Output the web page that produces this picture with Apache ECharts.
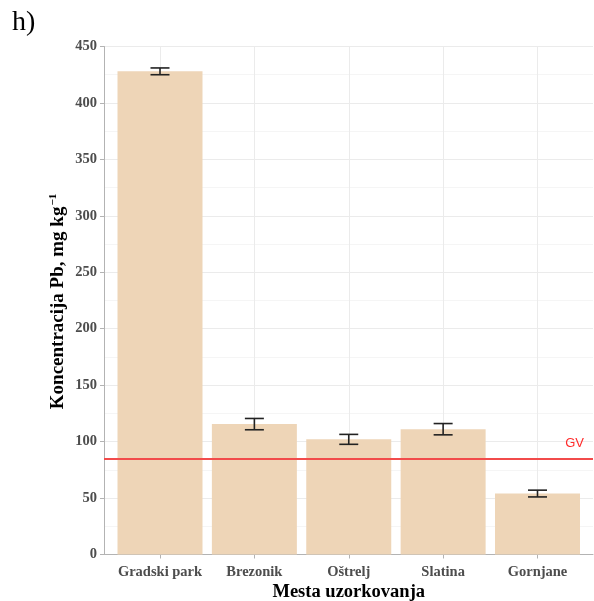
<!DOCTYPE html>
<html>
<head>
<meta charset="utf-8">
<script src="https://cdn.jsdelivr.net/npm/echarts@6/dist/echarts.min.js"></script>
<style>
html,body{margin:0;padding:0;background:#fff;}
#chart{width:594px;height:601px;}
</style>
</head>
<body>
<div id="chart"></div>
<script>
const categories = ['Gradski park', 'Brezonik', 'Oštrelj', 'Slatina', 'Gornjane'];
const means = [428, 115.5, 102, 111, 54];
const errors = [3, 5, 4.4, 5, 3];
const gvValue = 85;
const yTicks = [0, 50, 100, 150, 200, 250, 300, 350, 400, 450];
const yTitle = 'Koncentracija Pb, mg kg';
const yTitleSup = '−1';

const serif = '"Liberation Serif", "DejaVu Serif", serif';
const chart = echarts.init(document.getElementById('chart'));

const errData = means.map((m, i) => [i, m - errors[i], m + errors[i]]);

chart.setOption({
  animation: false,
  backgroundColor: '#fff',
  graphic: [
    {
      type: 'text', left: 12, top: 9,
      style: { text: 'h)', font: '28px ' + serif, fill: '#000' }
    },
    {
      type: 'text', x: 58, y: 301.5, rotation: Math.PI / 2,
      style: {
        text: '{a|' + yTitle + '}{s|' + yTitleSup + '}',
        align: 'center', verticalAlign: 'middle',
        rich: {
          a: { fontFamily: serif, fontWeight: 'bold', fontSize: 19, fill: '#000' },
          s: { fontFamily: serif, fontWeight: 'bold', fontSize: 11, fill: '#000', padding: [0, 0, 10, 1] }
        }
      }
    }
  ],
  grid: [
    { left: 104, right: 1, top: 46.5, bottom: 46.5, containLabel: false, outerBoundsMode: 'none' },
    { left: 160, right: 56.5, top: 46.5, bottom: 46.5, containLabel: false, outerBoundsMode: 'none' }
  ],
  xAxis: [
    {
      gridIndex: 0, type: 'value', min: 0, max: 1,
      axisLine: { show: true, lineStyle: { color: '#b3b3b3', width: 1 } },
      axisTick: { show: false }, axisLabel: { show: false }, splitLine: { show: false }
    },
    {
      gridIndex: 1, type: 'category', data: categories, boundaryGap: false,
      axisLine: { show: false },
      axisTick: { show: true, interval: 0, length: 4, lineStyle: { color: '#b3b3b3' } },
      axisLabel: { interval: 0, fontFamily: serif, fontWeight: 'bold', fontSize: 14.5, color: '#4d4d4d', margin: 10 },
      splitLine: { show: true, interval: 0, lineStyle: { color: '#ebebeb', width: 1 } },
      name: 'Mesta uzorkovanja', nameLocation: 'middle', nameGap: 28, nameMoveOverlap: false,
      nameTextStyle: { fontFamily: serif, fontWeight: 'bold', fontSize: 18.5, color: '#000' }
    }
  ],
  yAxis: [
    {
      gridIndex: 0, type: 'value', min: 0, max: 450, interval: 50,
      axisLine: { show: true, lineStyle: { color: '#b3b3b3', width: 1 } },
      axisTick: { show: true, length: 4, lineStyle: { color: '#b3b3b3' } },
      axisLabel: {
        fontFamily: serif, fontWeight: 'bold', fontSize: 14.5, color: '#4d4d4d', margin: 7,
        formatter: v => yTicks.includes(v) ? String(v) : ''
      },
      splitLine: { show: true, lineStyle: { color: '#ebebeb', width: 1 } },
      minorTick: { show: false, splitNumber: 2 },
      minorSplitLine: { show: true, lineStyle: { color: '#f5f5f5', width: 1 } }
    },
    {
      gridIndex: 1, type: 'value', min: 0, max: 450, show: false,
      splitLine: { show: false }
    }
  ],
  series: [
    {
      type: 'line', xAxisIndex: 0, yAxisIndex: 0, data: [], silent: true,
      markLine: {
        symbol: 'none', silent: true,
        lineStyle: { color: '#f24b4b', width: 2, type: 'solid' },
        label: {
          show: true, position: 'insideEndTop', formatter: 'GV',
          color: '#ff2a2a', fontFamily: '"Liberation Sans", Arial, sans-serif', fontSize: 13, distance: [9, 9]
        },
        data: [{ yAxis: gvValue }]
      }
    },
    {
      type: 'bar', xAxisIndex: 1, yAxisIndex: 1, data: means, barWidth: 85, clip: false,
      itemStyle: { color: '#EED5B7' }
    },
    {
      type: 'custom', xAxisIndex: 1, yAxisIndex: 1, data: errData, clip: false, z: 5,
      encode: { x: 0, y: [1, 2] },
      renderItem: function (params, api) {
        const x = api.value(0);
        const lo = api.coord([x, api.value(1)]);
        const hi = api.coord([x, api.value(2)]);
        const hw = 9.5;
        const st = { stroke: '#222', lineWidth: 1.6 };
        return {
          type: 'group',
          children: [
            { type: 'line', shape: { x1: lo[0], y1: lo[1], x2: hi[0], y2: hi[1] }, style: st },
            { type: 'line', shape: { x1: lo[0] - hw, y1: lo[1], x2: lo[0] + hw, y2: lo[1] }, style: st },
            { type: 'line', shape: { x1: hi[0] - hw, y1: hi[1], x2: hi[0] + hw, y2: hi[1] }, style: st }
          ]
        };
      }
    }
  ]
});
</script>
</body>
</html>
